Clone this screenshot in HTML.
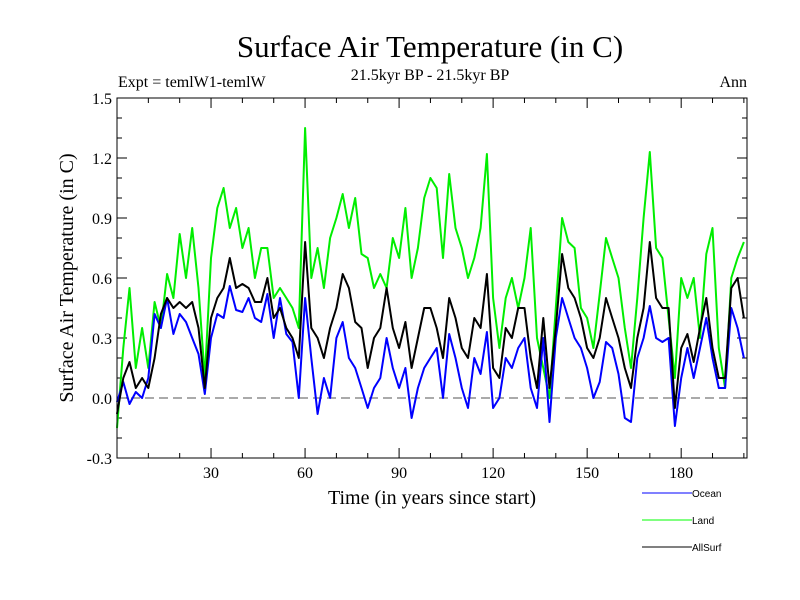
<!DOCTYPE html>
<html><head><meta charset="utf-8"><style>
body{margin:0;background:#fff}
svg{display:block}
text{font-family:"Liberation Serif",serif;fill:#000}
</style></head><body>
<svg id="chart" width="800" height="600" xmlns="http://www.w3.org/2000/svg">
<text x="430" y="57" font-size="31" text-anchor="middle">Surface Air Temperature (in C)</text>
<text x="430" y="80" font-size="16" text-anchor="middle">21.5kyr BP - 21.5kyr BP</text>
<text x="118" y="87" font-size="16">Expt = temlW1-temlW</text>
<text x="747" y="87" font-size="16" text-anchor="end">Ann</text>
<text transform="translate(73,278) rotate(-90)" font-size="20" text-anchor="middle">Surface Air Temperature (in C)</text>
<text x="432" y="504" font-size="20" text-anchor="middle">Time (in years since start)</text>
<g id="axes"></g>
<g id="series"></g>
<rect x="117" y="98" width="630" height="360" fill="none" stroke="#000" stroke-width="1"/>
<g font-family="Liberation Sans, sans-serif">
<line x1="642" y1="493" x2="692" y2="493" stroke="#0000ff"/>
<text x="692" y="497" font-size="10" style="font-family:'Liberation Sans',sans-serif">Ocean</text>
<line x1="642" y1="520" x2="692" y2="520" stroke="#00ff00"/>
<text x="692" y="524" font-size="10" style="font-family:'Liberation Sans',sans-serif">Land</text>
<line x1="642" y1="547" x2="692" y2="547" stroke="#000"/>
<text x="692" y="551" font-size="10" style="font-family:'Liberation Sans',sans-serif">AllSurf</text>
</g>
</svg>
<script>
const years=[];for(let t=0;t<=200;t+=2)years.push(t);
const ocean=[-0.02,0.08,-0.03,0.03,0.0,0.1,0.42,0.35,0.5,0.32,0.42,0.38,0.3,0.22,0.02,0.3,0.42,0.4,0.56,0.44,0.43,0.5,0.4,0.38,0.52,0.3,0.5,0.32,0.28,0.0,0.5,0.2,-0.08,0.1,0.0,0.3,0.38,0.2,0.15,0.05,-0.05,0.05,0.1,0.3,0.15,0.05,0.15,-0.1,0.05,0.15,0.2,0.25,0.0,0.32,0.2,0.05,-0.05,0.2,0.12,0.33,-0.05,0.0,0.2,0.15,0.25,0.3,0.05,-0.05,0.3,-0.12,0.3,0.5,0.4,0.3,0.25,0.15,0.0,0.08,0.28,0.25,0.12,-0.1,-0.12,0.2,0.3,0.46,0.3,0.28,0.3,-0.14,0.1,0.25,0.1,0.25,0.4,0.2,0.05,0.05,0.45,0.35,0.2];
const land=[-0.15,0.25,0.55,0.15,0.35,0.15,0.48,0.35,0.62,0.5,0.82,0.6,0.85,0.55,0.1,0.7,0.95,1.05,0.85,0.95,0.75,0.85,0.6,0.75,0.75,0.5,0.55,0.5,0.45,0.35,1.35,0.6,0.75,0.55,0.8,0.9,1.02,0.85,1.0,0.72,0.7,0.55,0.62,0.55,0.8,0.7,0.95,0.6,0.75,1.0,1.1,1.05,0.7,1.12,0.85,0.75,0.6,0.7,0.85,1.22,0.5,0.25,0.5,0.6,0.45,0.6,0.85,0.3,0.15,0.0,0.45,0.9,0.78,0.75,0.45,0.4,0.25,0.52,0.8,0.7,0.6,0.35,0.15,0.5,0.9,1.23,0.75,0.7,0.4,0.1,0.6,0.5,0.6,0.3,0.72,0.85,0.25,0.05,0.6,0.7,0.78];
const allSurf=[-0.08,0.1,0.18,0.05,0.1,0.05,0.2,0.42,0.5,0.45,0.48,0.45,0.48,0.35,0.05,0.4,0.5,0.55,0.7,0.55,0.57,0.55,0.48,0.48,0.6,0.4,0.45,0.35,0.3,0.2,0.78,0.35,0.3,0.2,0.35,0.45,0.62,0.55,0.38,0.35,0.15,0.3,0.35,0.55,0.35,0.25,0.38,0.15,0.3,0.45,0.45,0.35,0.2,0.5,0.4,0.25,0.2,0.4,0.35,0.62,0.15,0.1,0.35,0.3,0.45,0.45,0.2,0.05,0.4,0.05,0.35,0.72,0.55,0.5,0.4,0.25,0.2,0.3,0.5,0.4,0.3,0.15,0.05,0.3,0.45,0.78,0.5,0.45,0.45,-0.05,0.25,0.32,0.18,0.35,0.5,0.25,0.1,0.1,0.55,0.6,0.4];
const yTicks=[-0.3,0.0,0.3,0.6,0.9,1.2,1.5];
const yTickLabels=["-0.3","0.0","0.3","0.6","0.9","1.2","1.5"];
const xTicks=[30,60,90,120,150,180];
const xTickLabels=["30","60","90","120","150","180"];
const X0=117,X1=747,Y0=98,Y1=458,XMIN=0,XMAX=201,YMIN=-0.3,YMAX=1.5;
const xs=t=>X0+(t-XMIN)/(XMAX-XMIN)*(X1-X0);
const ys=v=>Y1-(v-YMIN)/(YMAX-YMIN)*(Y1-Y0);
const NS="http://www.w3.org/2000/svg";
const axes=document.getElementById('axes'),ser=document.getElementById('series');
function mk(tag,attrs,parent){const e=document.createElementNS(NS,tag);for(const k in attrs)e.setAttribute(k,attrs[k]);parent.appendChild(e);return e;}
// minor y ticks
for(let i=0;i<=18;i++){const v=YMIN+i*0.1;const y=ys(v);const major=i%3===0;const L=major?10:5;
 const a=mk('line',{x1:X0,y1:y,x2:X0+L,y2:y,stroke:'#000'},axes);
 
 
 const b=mk('line',{x1:X1,y1:y,x2:X1-L,y2:y,stroke:'#000'},axes);
 
 }
yTicks.forEach((v,i)=>{const t=mk('text',{x:X0-5,y:ys(v)+6,'font-size':16,'text-anchor':'end'},axes);t.textContent=yTickLabels[i];
 
 });
for(let t=10;t<XMAX;t+=10){const x=xs(t);const major=t%30===0;const L=major?10:5;
 const a=mk('line',{x1:x,y1:Y1,x2:x,y2:Y1-L,stroke:'#000'},axes);
 
 
 const b=mk('line',{x1:x,y1:Y0,x2:x,y2:Y0+L,stroke:'#000'},axes);
 
 }
xTicks.forEach((v,i)=>{const t=mk('text',{x:xs(v),y:Y1+20,'font-size':16,'text-anchor':'middle'},axes);t.textContent=xTickLabels[i];
 
 });
const zl=mk('line',{x1:X0,y1:ys(0),x2:X1,y2:ys(0),stroke:'#555','stroke-dasharray':'9,5'},axes);


function line(vals,color,name){const d=vals.map((v,i)=>(i?'L':'M')+xs(years[i]).toFixed(1)+','+ys(v).toFixed(1)).join('');
 const p=mk('path',{d:d,fill:'none',stroke:color,'stroke-width':2,'stroke-linejoin':'round'},ser);
 
 }
line(land,'#00ee00','land-line');
line(ocean,'#0000ff','ocean-line');
line(allSurf,'#000000','allsurf-line');
</script>
</body></html>
